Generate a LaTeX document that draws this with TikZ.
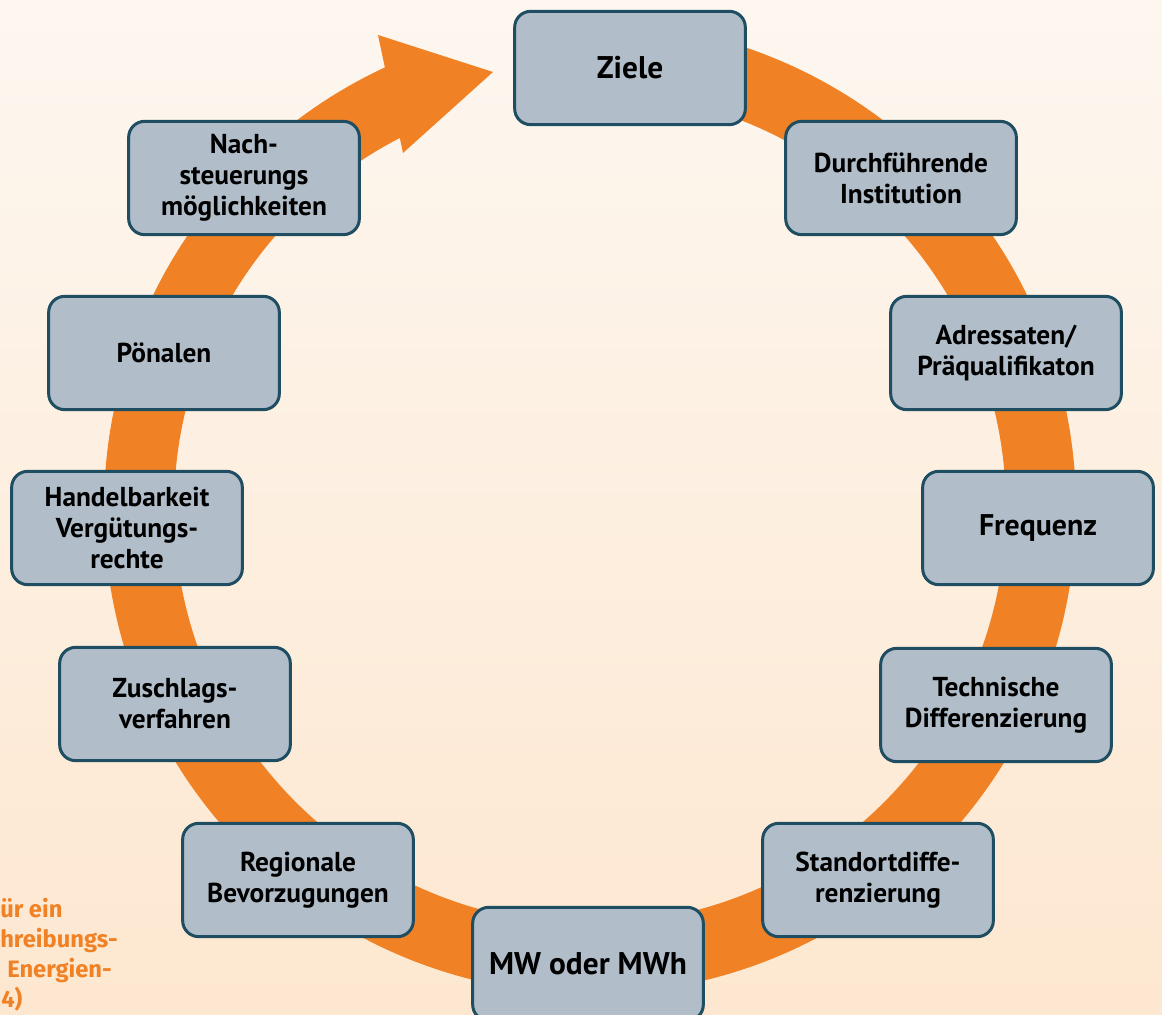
\documentclass[tikz,border=0pt]{standalone}
\usepackage{fontspec}
\setmainfont{PT Sans}
\newfontfamily\quellfont{Fira Sans}
\usetikzlibrary{calc}
\definecolor{ringorange}{RGB}{240,129,36}
\definecolor{boxfill}{RGB}{177,190,201}
\definecolor{boxline}{RGB}{31,77,97}
\definecolor{bgtop}{RGB}{253,247,240}
\definecolor{bgbot}{RGB}{253,231,208}
\tikzstyle{stufe}=[rectangle, rounded corners=12pt, draw=boxline, fill=boxfill, line width=2.25pt, minimum width=173pt, minimum height=85pt, align=center, inner sep=2pt, font=\fontsize{20.5}{23.3}\selectfont\bfseries]
\tikzstyle{gross}=[font=\fontsize{22.4}{25}\selectfont\bfseries]
\tikzstyle{titel}=[font=\fontsize{23.5}{27}\selectfont\bfseries]
\tikzstyle{quelle}=[anchor=base west, inner sep=0pt, text=ringorange, font=\quellfont\fontsize{17.8}{23.3}\selectfont\bfseries]

\begin{document}
\begin{tikzpicture}[x=0.75pt, y=0.75pt]
                \useasboundingbox (0,0) rectangle (1162,1014);
                \shade[top color=bgtop, bottom color=bgbot] (0,0) rectangle (1162,1014);
                % Kreislauf mit Pfeilspitze
                \coordinate (ctr) at (590,506);
                \draw[ringorange, line width=52.5pt] (ctr) ++(95:451) arc[start angle=95, end angle=-247, radius=451];
                \coordinate (spitze) at (493,942);
                \coordinate (fuss1) at (378,979);
                \coordinate (fuss2) at (403,861);
                \fill[ringorange] (fuss1)--(spitze)--(fuss2)--cycle;
                % Stufen
                \node[stufe, titel] (ziele) at (630,946) {Ziele};
                \node[stufe] (durch) at (901,836) {Durchführende\\Institution};
                \node[stufe] (adress) at (1006,661) {Adressaten/\\Präqualifikaton};
                \node[stufe, gross] (freq) at (1038,486) {Frequenz};
                \node[stufe] (techn) at (996,309) {Technische\\Differenzierung};
                \node[stufe] (stand) at (878,134) {Standortdiffe-\\renzierung};
                \node[stufe, titel] (mw) at (588,50) {MW oder MWh};
                \node[stufe] (regio) at (298,134) {Regionale\\Bevorzugungen};
                \node[stufe] (zuschl) at (175,310) {Zuschlags-\\verfahren};
                \node[stufe] (handel) at (127,486) {Handelbarkeit\\Vergütungs-\\rechte};
                \node[stufe] (poenal) at (164,661) {Pönalen};
                \node[stufe] (nach) at (244,836) {Nach-\\steuerungs\\möglichkeiten};
                % Quelle, links angeschnitten
                \node[quelle] (q1) at (0,97) {ür ein};
                \node[quelle] (q2) at (0,67) {hreibungs-};
                \node[quelle] (q3) at (7,37) {Energien-};
                \node[quelle] (q4) at (1,7) {4)};
            \end{tikzpicture}
\end{document}
